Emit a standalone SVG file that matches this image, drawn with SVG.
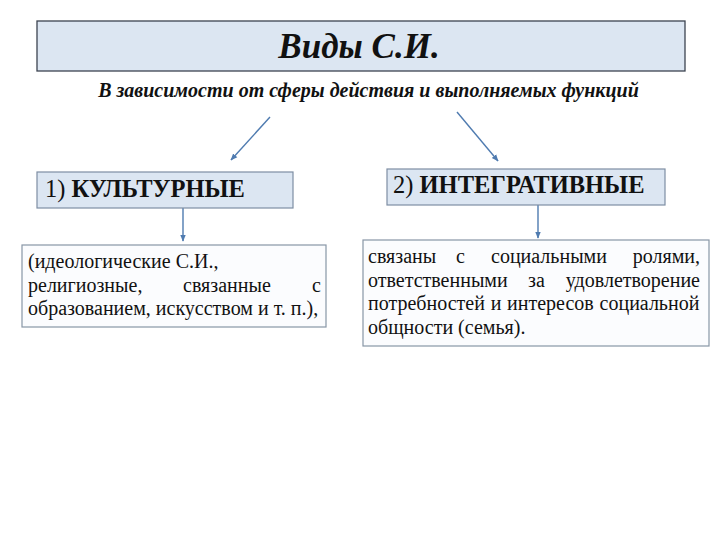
<svg xmlns="http://www.w3.org/2000/svg" width="720" height="540" viewBox="0 0 720 540">
<defs>
<style>
text{font-family:'Liberation Serif','Times New Roman',serif;fill:#111}
.hdr{fill:#dce6f2;stroke:#7e8ea3;stroke-width:1.2}
.txtbox{fill:#fbfcfe;stroke:#8896a6;stroke-width:1.2}
.conn{stroke:#4f7bb0;stroke-width:1.4;fill:none}
.body{font-size:20px}
.lbl{font-size:24.5px}
</style>
<marker id="ah" viewBox="0 0 10 10" refX="9" refY="5" markerWidth="5" markerHeight="5" orient="auto">
<path d="M0,1 L10,5 L0,9 z" fill="#4f7bb0"/>
</marker>
</defs>
<rect width="720" height="540" fill="#ffffff"/>

<g id="title">
<rect x="37" y="21" width="648" height="50" fill="#dce6f2" stroke="#3c4450" stroke-width="1.3"/>
<text x="359" y="58" text-anchor="middle" font-size="35" font-weight="bold" font-style="italic">Виды С.И.</text>
</g>

<g id="subtitle">
<text x="368.5" y="97" text-anchor="middle" font-size="20" font-weight="bold" font-style="italic">В зависимости от сферы действия и выполняемых функций</text>
</g>

<g id="connectors">
<line class="conn" x1="270" y1="117" x2="231" y2="160" marker-end="url(#ah)"/>
<line class="conn" x1="457" y1="112" x2="498" y2="161" marker-end="url(#ah)"/>
<line class="conn" x1="183" y1="208" x2="183" y2="241" marker-end="url(#ah)"/>
<line class="conn" x1="538" y1="205" x2="538" y2="238" marker-end="url(#ah)"/>
</g>

<g id="node-cultural">
<rect class="hdr" x="37" y="172" width="256" height="36"/>
<text class="lbl" x="45" y="197"><tspan>1) </tspan><tspan font-weight="bold">КУЛЬТУРНЫЕ</tspan></text>
</g>

<g id="node-integrative">
<rect class="hdr" x="387" y="169" width="278" height="36"/>
<text class="lbl" x="393" y="193"><tspan>2) </tspan><tspan font-weight="bold">ИНТЕГРАТИВНЫЕ</tspan></text>
</g>

<g id="node-cultural-desc">
<rect class="txtbox" x="22" y="245" width="304" height="82"/>
<text class="body" x="28" y="268">(идеологические С.И.,</text>
<text class="body" y="292"><tspan x="28">религиозные,</tspan><tspan x="183">связанные</tspan><tspan x="321" text-anchor="end">с</tspan></text>
<text class="body" x="28" y="315">образованием, искусством и т. п.),</text>
</g>

<g id="node-integrative-desc">
<rect class="txtbox" x="363" y="240" width="346" height="106"/>
<text class="body" y="263"><tspan x="368">связаны</tspan><tspan x="456">с</tspan><tspan x="491">социальными</tspan></text>
<text class="body" x="700" y="263" text-anchor="end">ролями,</text>
<text class="body" y="287"><tspan x="368">ответственными</tspan><tspan x="528">за</tspan></text>
<text class="body" x="700" y="287" text-anchor="end">удовлетворение</text>
<text class="body" x="368" y="310" word-spacing="0.75">потребностей и интересов социальной</text>
<text class="body" x="368" y="334">общности (семья).</text>
</g>
</svg>
